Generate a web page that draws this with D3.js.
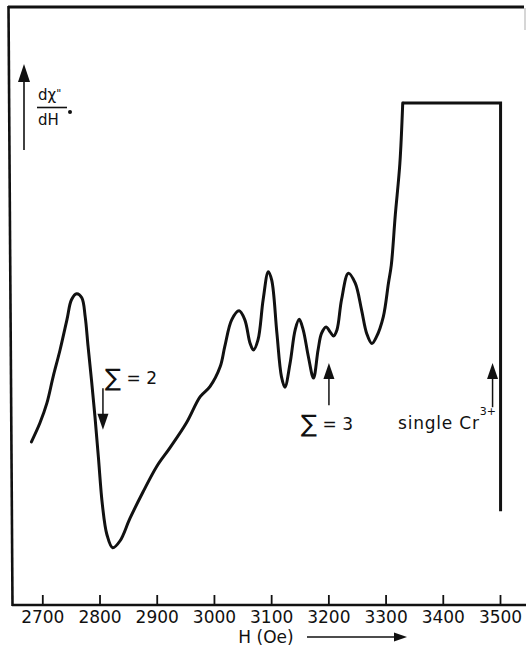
<!DOCTYPE html>
<html>
<head>
<meta charset="utf-8">
<script src="https://cdn.jsdelivr.net/npm/d3@7"></script>
<style>
  html, body { margin: 0; padding: 0; background: #fff; }
  svg { display: block; }
  text { font-family: "DejaVu Sans", sans-serif; fill: #111; }
</style>
</head>
<body>
<svg id="chart" width="526" height="652"></svg>
<script>
// Field sweep H (Oe) and the derivative signal dχ''/dH (arbitrary units)
const fieldH = [
  2681, 2696, 2708, 2719, 2731, 2743, 2751, 2760, 2769, 2775,
  2780, 2786, 2792, 2798, 2805, 2813, 2823, 2836, 2853,
  2876, 2900, 2923, 2952, 2976, 2993, 3011, 3019, 3031, 3044,
  3054, 3063, 3069, 3077, 3086, 3095, 3101, 3110, 3118, 3124,
  3133, 3142, 3149, 3156, 3165, 3174, 3182, 3188, 3196, 3203,
  3209, 3215, 3223, 3235, 3247, 3258, 3267, 3276, 3284, 3296,
  3305, 3310, 3317, 3325, 3330
];
const signal = [
  32.5, 36.3, 40.2, 45.5, 50.8, 56.8, 60.8, 62.0, 61.2, 57.4,
  51.5, 44.8, 37.6, 29.5, 20.0, 14.0, 11.4, 12.8, 17.2,
  22.5, 27.6, 31.3, 36.3, 41.5, 43.5, 47.5, 51.5, 56.8, 58.6,
  56.8, 52.2, 50.8, 52.8, 60.8, 66.4, 64.7, 54.2, 45.5, 43.4,
  48.1, 54.8, 56.9, 54.8, 49.5, 45.2, 50.8, 54.1, 55.4, 54.4,
  53.6, 54.8, 60.8, 66.1, 64.1, 58.8, 54.1, 52.1, 53.4, 57.4,
  64.1, 67.7, 77.7, 88.0, 100
];
// Recorder saturation: pen held at full scale, then released at the sweep end
const clipH = [3330, 3501, 3501];
const clipSignal = [100, 100, 18.7];

const tickValues = [2700, 2800, 2900, 3000, 3100, 3200, 3300, 3400, 3500];

// Marked resonances
const markers = [
  { label: "sum2", H: 2806, from: 43.2, to: 34.9 },
  { label: "sum3", H: 3201, from: 39.8, to: 48.2 },
  { label: "cr",   H: 3487, from: 39.4, to: 48.2 }
];

const svg = d3.select("#chart");
const x = d3.scaleLinear().domain([2700, 3500]).range([42.3, 500]);
const y = d3.scaleLinear().domain([0, 100]).range([605, 103]);

// Frame
svg.append("line").attr("x1", 8).attr("y1", 7).attr("x2", 524).attr("y2", 7)
  .attr("stroke", "#111").attr("stroke-width", 3);
svg.append("line").attr("x1", 8.5).attr("y1", 6).attr("x2", 12.5).attr("y2", 606)
  .attr("stroke", "#111").attr("stroke-width", 2.6);
svg.append("line").attr("x1", 525).attr("y1", 8).attr("x2", 525).attr("y2", 30)
  .attr("stroke", "#bbb").attr("stroke-width", 1.2);

// Bottom axis with inward ticks
const axis = d3.axisBottom(x).tickValues(tickValues).tickSizeInner(-10)
  .tickSizeOuter(0).tickPadding(6).tickFormat(d3.format("d"));
const gx = svg.append("g").attr("transform", "translate(0,605)").call(axis);
gx.select(".domain").remove();
gx.selectAll(".tick line").attr("stroke", "#111").attr("stroke-width", 1.8);
gx.selectAll(".tick text").attr("font-size", 17).attr("font-family", "DejaVu Sans")
  .attr("fill", "#111");
svg.append("line").attr("x1", 12).attr("y1", 605).attr("x2", 526).attr("y2", 605)
  .attr("stroke", "#111").attr("stroke-width", 2.6);

// Axis titles
svg.append("text").attr("x", 266).attr("y", 643).attr("text-anchor", "middle")
  .attr("font-size", 17).text("H (Oe)");
svg.append("line").attr("x1", 307).attr("y1", 637).attr("x2", 397).attr("y2", 637)
  .attr("stroke", "#111").attr("stroke-width", 1.5);
svg.append("path").attr("d", "M407,637 L394,632.5 L394,641.5 Z").attr("fill", "#111");

svg.append("line").attr("x1", 24).attr("y1", 150).attr("x2", 24).attr("y2", 78)
  .attr("stroke", "#111").attr("stroke-width", 1.6);
svg.append("path").attr("d", "M24,64 L18,82 L30,82 Z").attr("fill", "#111");

const num = svg.append("text").attr("x", 38).attr("y", 100).attr("font-size", 15);
num.append("tspan").text("dχ");
num.append("tspan").attr("dy", -3).attr("font-size", 11).text("\"");
svg.append("line").attr("x1", 37).attr("y1", 107.5).attr("x2", 67).attr("y2", 107.5)
  .attr("stroke", "#111").attr("stroke-width", 1.6);
svg.append("text").attr("x", 38).attr("y", 125).attr("font-size", 15).text("dH");
svg.append("circle").attr("cx", 70).attr("cy", 112).attr("r", 2).attr("fill", "#111");

// Spectrum trace
const line = d3.line().x(d => x(d[0])).y(d => y(d[1])).curve(d3.curveCatmullRom.alpha(0.5));
svg.append("path").datum(fieldH.map((h, i) => [h, signal[i]]))
  .attr("d", line).attr("fill", "none").attr("stroke", "#111")
  .attr("stroke-width", 3).attr("stroke-linejoin", "round").attr("stroke-linecap", "round");
const clipLine = d3.line().x(d => x(d[0])).y(d => y(d[1]));
svg.append("path").datum(clipH.map((h, i) => [h, clipSignal[i]]))
  .attr("d", clipLine).attr("fill", "none").attr("stroke", "#111")
  .attr("stroke-width", 3).attr("stroke-linejoin", "miter").attr("stroke-linecap", "butt");

// Marker arrows
markers.forEach(m => {
  const xm = x(m.H), y0 = y(m.from), y1 = y(m.to);
  const dir = y1 > y0 ? 1 : -1;
  svg.append("line").attr("x1", xm).attr("y1", y0).attr("x2", xm).attr("y2", y1 - dir * 13)
    .attr("stroke", "#111").attr("stroke-width", 1.5);
  svg.append("path")
    .attr("d", `M${xm},${y1} L${xm - 5.5},${y1 - dir * 16} L${xm + 5.5},${y1 - dir * 16} Z`)
    .attr("fill", "#111");
});

// Marker labels
function sumLabel(xp, yp, n) {
  const t = svg.append("text").attr("x", xp).attr("y", yp).attr("font-size", 17);
  t.append("tspan").attr("font-size", 24).attr("dy", 2).text("∑");
  t.append("tspan").attr("dy", -2).text(" = " + n);
}
sumLabel(105, 384, 2);
sumLabel(301, 430, 3);
const cr = svg.append("text").attr("x", 398).attr("y", 429).attr("font-size", 17)
  .attr("letter-spacing", 0.8);
cr.append("tspan").text("single Cr");
cr.append("tspan").attr("dy", -14).attr("font-size", 11).attr("letter-spacing", 0).text("3+");
</script>
</body>
</html>
